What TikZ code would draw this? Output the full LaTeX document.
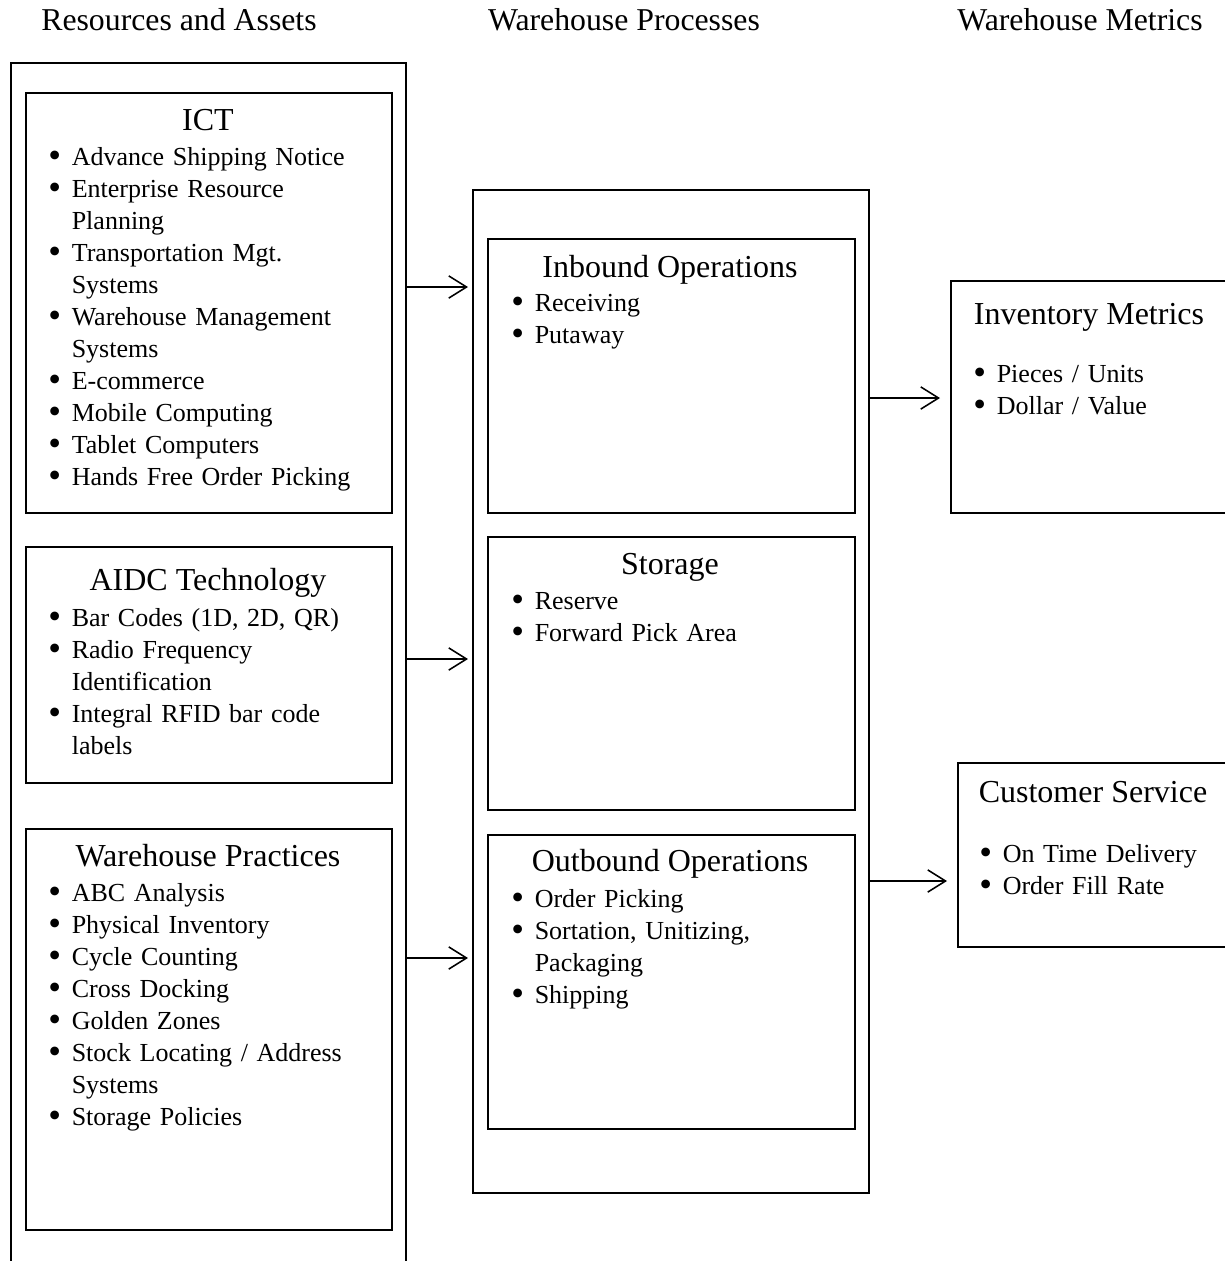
\documentclass[tikz,border=0pt]{standalone}
\usepackage{fontspec}
\setmainfont{Liberation Serif}
\usetikzlibrary{arrows.meta, positioning, calc}
\newcommand{\bitem}[1]{\makebox[10.5pt][l]{\raisebox{-1.3pt}[0pt][0pt]{\scalebox{1.4}{\textbullet}}}#1}
\newcommand{\bcont}[1]{\hspace*{10.5pt}#1}
\tikzset{
  pane/.style 2 args={draw, line width=0.7pt, anchor=north west, inner sep=0pt,
    minimum width=#1*0.45pt, minimum height=#2*0.45pt},
  head/.style={anchor=base, inner sep=0pt, font=\fontsize{14.3}{17}\selectfont},
  ttl/.style={anchor=base, inner sep=0pt, font=\fontsize{14.4}{17}\selectfont},
  blist/.style={anchor=base west, inner sep=0pt, align=left, text width=170pt,
    font=\fontsize{11.7}{14.4}\selectfont},
  flow/.style={-{Straight Barb[length=8pt, width=10pt]}, line width=0.7pt},
}
\begin{document}
\begin{tikzpicture}[x=0.45pt, y=-0.45pt]
    \useasboundingbox (0,0) rectangle (1225,1261);
    \clip (0,0) rectangle (1225,1261);
    \node[head] (hres) at (179,30) {Resources and Assets};
    \node[head] (hproc) at (624,30) {Warehouse Processes};
    \node[head] (hmet) at (1080,30) {Warehouse Metrics};

    \node[pane={395}{1260}] (resbox) at (10,62) {};
    \node[pane={366}{420}] (ict) at (25,92) {};
    \node[pane={366}{236}] (aidc) at (25,546) {};
    \node[pane={366}{401}] (wprac) at (25,828) {};
    \node[pane={396}{1003}] (procbox) at (472,189) {};
    \node[pane={367}{274}] (inbound) at (487,238) {};
    \node[pane={367}{273}] (storage) at (487,536) {};
    \node[pane={367}{294}] (outbound) at (487,834) {};
    \node[pane={320}{232}] (invbox) at (950,280) {};
    \node[pane={320}{184}] (custbox) at (957,762) {};

    \node[ttl] (tict) at (208,130) {ICT};
    \node[blist] (lict) at (48,165) {\bitem{Advance Shipping Notice}\\
      \bitem{Enterprise Resource}\\ \bcont{Planning}\\
      \bitem{Transportation Mgt.}\\ \bcont{Systems}\\
      \bitem{Warehouse Management}\\ \bcont{Systems}\\
      \bitem{E-commerce}\\ \bitem{Mobile Computing}\\
      \bitem{Tablet Computers}\\ \bitem{Hands Free Order Picking}};
    \node[ttl] (taidc) at (208,590) {AIDC Technology};
    \node[blist] (laidc) at (48,626) {\bitem{Bar Codes (1D, 2D, QR)}\\
      \bitem{Radio Frequency}\\ \bcont{Identification}\\
      \bitem{Integral RFID bar code}\\ \bcont{labels}};
    \node[ttl] (twprac) at (208,866) {Warehouse Practices};
    \node[blist] (lwprac) at (48,901) {\bitem{ABC Analysis}\\
      \bitem{Physical Inventory}\\ \bitem{Cycle Counting}\\
      \bitem{Cross Docking}\\ \bitem{Golden Zones}\\
      \bitem{Stock Locating / Address}\\ \bcont{Systems}\\
      \bitem{Storage Policies}};

    \node[ttl] (tinb) at (670,277) {Inbound Operations};
    \node[blist] (linb) at (511,311) {\bitem{Receiving}\\ \bitem{Putaway}};
    \node[ttl] (tsto) at (670,574) {Storage};
    \node[blist] (lsto) at (511,609) {\bitem{Reserve}\\ \bitem{Forward Pick Area}};
    \node[ttl] (tout) at (670,871) {Outbound Operations};
    \node[blist] (lout) at (511,907) {\bitem{Order Picking}\\
      \bitem{Sortation, Unitizing,}\\ \bcont{Packaging}\\ \bitem{Shipping}};

    \node[ttl] (tinv) at (1089,324) {Inventory Metrics};
    \node[blist] (linv) at (973,382) {\bitem{Pieces / Units}\\ \bitem{Dollar / Value}};
    \node[ttl] (tcust) at (1093,802) {Customer Service};
    \node[blist] (lcust) at (979,862) {\bitem{On Time Delivery}\\ \bitem{Order Fill Rate}};

    \coordinate (r1) at (0,287);
    \coordinate (r2) at (0,659);
    \coordinate (r3) at (0,958);
    \coordinate (m1) at (0,398);
    \coordinate (m2) at (0,881);
    \draw[flow, shorten >=1.8pt] (resbox.east |- r1) -- (procbox.west |- r1);
    \draw[flow, shorten >=1.8pt] (resbox.east |- r2) -- (procbox.west |- r2);
    \draw[flow, shorten >=1.8pt] (resbox.east |- r3) -- (procbox.west |- r3);
    \draw[flow, shorten >=4.5pt] (procbox.east |- m1) -- (invbox.west |- m1);
    \draw[flow, shorten >=4.5pt] (procbox.east |- m2) -- (custbox.west |- m2);
  \end{tikzpicture}
\end{document}
